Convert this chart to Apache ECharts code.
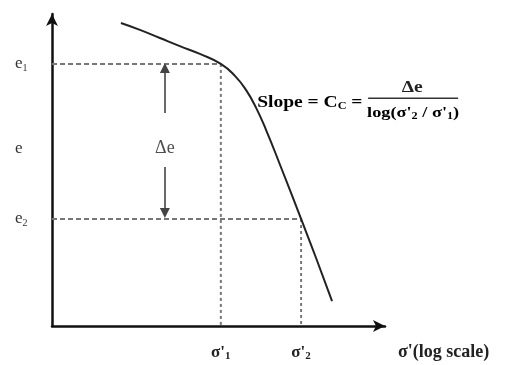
<!DOCTYPE html>
<html>
<head>
<meta charset="utf-8">
<script src="https://cdn.jsdelivr.net/npm/echarts@6/dist/echarts.min.js"></script>
<style>html,body{margin:0;padding:0;background:#fff}#main{width:508px;height:365px}</style>
</head>
<body>
<div id="main"></div>
<script>
// e - log(sigma') curve, arbitrary units (0..100 on both axes)
var curveX = [20.7, 26.4, 32.4, 38.4, 44.4, 50.7, 55.0, 58.3, 61.3, 64.3, 68.5, 74.8, 79.3, 84.1];
var curveY = [97.1, 94.9, 92.3, 89.7, 87.2, 84.0, 80.1, 75.6, 69.9, 62.8, 51.6, 34.3, 21.8, 8.0];
var sigmaX = [50.7, 74.8];      // sigma'1, sigma'2
var eY = [84.0, 34.3];          // e1, e2
var eMid = 57.0;                // plain "e" label
var yTickValues = [eY[1], eMid, eY[0]];
var yTickLabels = ['{n|e}{s|2}', '{n|e}', '{n|e}{s|1}'];
var xTickLabels = ["{b|σ'}{s|1}", "{b|σ'}{s|2}"];
var arrowX = 33.9;
var arrowUp = [68.3, 82.7];     // from, to
var arrowDown = [51.0, 36.2];
var deltaLabel = [33.9, 57.0];
var slopeAnchor = [61.6, 71.5];

var serif = '"Liberation Serif", "DejaVu Serif", serif';
var dom = document.getElementById('main');
var myChart = echarts.init(dom);

var curveData = curveX.map(function (x, i) { return [x, curveY[i]]; });

function dashed(data, type) {
    return {
        type: 'line',
        data: data,
        symbol: 'none',
        silent: true,
        lineStyle: {color: '#777', width: 2, type: type}
    };
}

var option = {
    animation: false,
    grid: {left: 52, right: 123, top: 14, bottom: 39},
    xAxis: {
        type: 'value',
        min: 0,
        max: 100,
        splitLine: {show: false},
        axisTick: {show: false},
        axisLine: {
            show: true,
            symbol: ['none', 'arrow'],
            symbolSize: [9, 12],
            lineStyle: {color: '#111', width: 2.5}
        },
        axisLabel: {
            customValues: sigmaX,
            margin: 17,
            formatter: function (v) {
                return xTickLabels[sigmaX.indexOf(v)];
            },
            rich: {
                b: {fontFamily: serif, fontWeight: 'bold', fontSize: 17, color: '#222'},
                s: {fontFamily: serif, fontWeight: 'bold', fontSize: 11, color: '#222', padding: [8, 0, 0, 0]}
            }
        },
        name: "σ'(log scale)",
        nameLocation: 'end',
        nameGap: 13,
        nameTextStyle: {
            fontFamily: serif, fontWeight: 'bold', fontSize: 18, color: '#222',
            align: 'left', verticalAlign: 'top', padding: [17, 0, 0, 0]
        }
    },
    yAxis: {
        type: 'value',
        min: 0,
        max: 100,
        splitLine: {show: false},
        axisTick: {show: false},
        axisLine: {
            show: true,
            symbol: ['none', 'arrow'],
            symbolSize: [9, 12],
            lineStyle: {color: '#111', width: 2.5}
        },
        axisLabel: {
            customValues: yTickValues,
            margin: 37,
            align: 'left',
            formatter: function (v) {
                return yTickLabels[yTickValues.indexOf(v)];
            },
            rich: {
                n: {fontFamily: serif, fontSize: 17, color: '#333'},
                s: {fontFamily: serif, fontSize: 10, color: '#333', padding: [8, 0, 0, 0]}
            }
        }
    },
    series: [
        dashed([[0, eY[0]], [sigmaX[0], eY[0]]], [5, 3]),
        dashed([[0, eY[1]], [sigmaX[1], eY[1]]], [5, 3]),
        dashed([[sigmaX[0], eY[0]], [sigmaX[0], 0]], [3, 3]),
        dashed([[sigmaX[1], eY[1]], [sigmaX[1], 0]], [3, 3]),
        {
            type: 'line',
            data: curveData,
            smooth: 0.5,
            symbol: 'none',
            silent: true,
            lineStyle: {color: '#222', width: 2}
        },
        {
            type: 'line',
            data: [],
            markLine: {
                silent: true,
                animation: false,
                symbol: ['none', 'triangle'],
                symbolSize: [10, 10],
                label: {show: false},
                lineStyle: {color: '#444', width: 1.6, type: 'solid'},
                data: [
                    [{coord: [arrowX, arrowUp[0]]}, {coord: [arrowX, arrowUp[1]]}],
                    [{coord: [arrowX, arrowDown[0]]}, {coord: [arrowX, arrowDown[1]]}]
                ]
            }
        },
        {
            type: 'scatter',
            data: [deltaLabel],
            symbolSize: 0,
            silent: true,
            label: {
                show: true,
                position: 'inside',
                formatter: 'Δe',
                fontFamily: serif,
                fontSize: 18,
                color: '#222'
            }
        }
    ]
};

myChart.setOption(option, true);

// slope formula, anchored to a data point and stretched like the source
var p = myChart.convertToPixel({gridIndex: 0}, slopeAnchor);
var sx = 1.22;
var richB = {fontFamily: serif, fontWeight: 'bold', fontSize: 16, color: '#222'};
var richS = {fontFamily: serif, fontWeight: 'bold', fontSize: 10, color: '#222', padding: [7, 0, 0, 0]};
var richB2 = {fontFamily: serif, fontWeight: 'bold', fontSize: 15, color: '#222'};
var richS2 = {fontFamily: serif, fontWeight: 'bold', fontSize: 10, color: '#222', padding: [7, 0, 0, 0]};
myChart.setOption({
    graphic: [{
        type: 'group',
        x: p[0],
        y: p[1],
        silent: true,
        children: [
            {
                type: 'text', x: 0, y: 0, scaleX: sx,
                style: {text: '{b|Slope = C}{s|C}{b| =}', rich: {b: richB, s: richS}, verticalAlign: 'middle'}
            },
            {
                type: 'text', x: 155, y: -15, scaleX: sx,
                style: {text: 'Δe', fontFamily: serif, fontWeight: 'bold', fontSize: 16, fill: '#222',
                    align: 'center', verticalAlign: 'middle'}
            },
            {
                type: 'rect',
                shape: {x: 111, y: -5.5, width: 90, height: 1.5},
                style: {fill: '#333'}
            },
            {
                type: 'text', x: 156, y: 10, scaleX: sx,
                style: {
                    text: "{b|log(σ'}{s|2}{b| / σ'}{s|1}{b|)}",
                    rich: {b: richB2, s: richS2},
                    align: 'center', verticalAlign: 'middle'
                }
            }
        ]
    }]
});

window.addEventListener('resize', function () {
    myChart.resize();
});
</script>
</body>
</html>
